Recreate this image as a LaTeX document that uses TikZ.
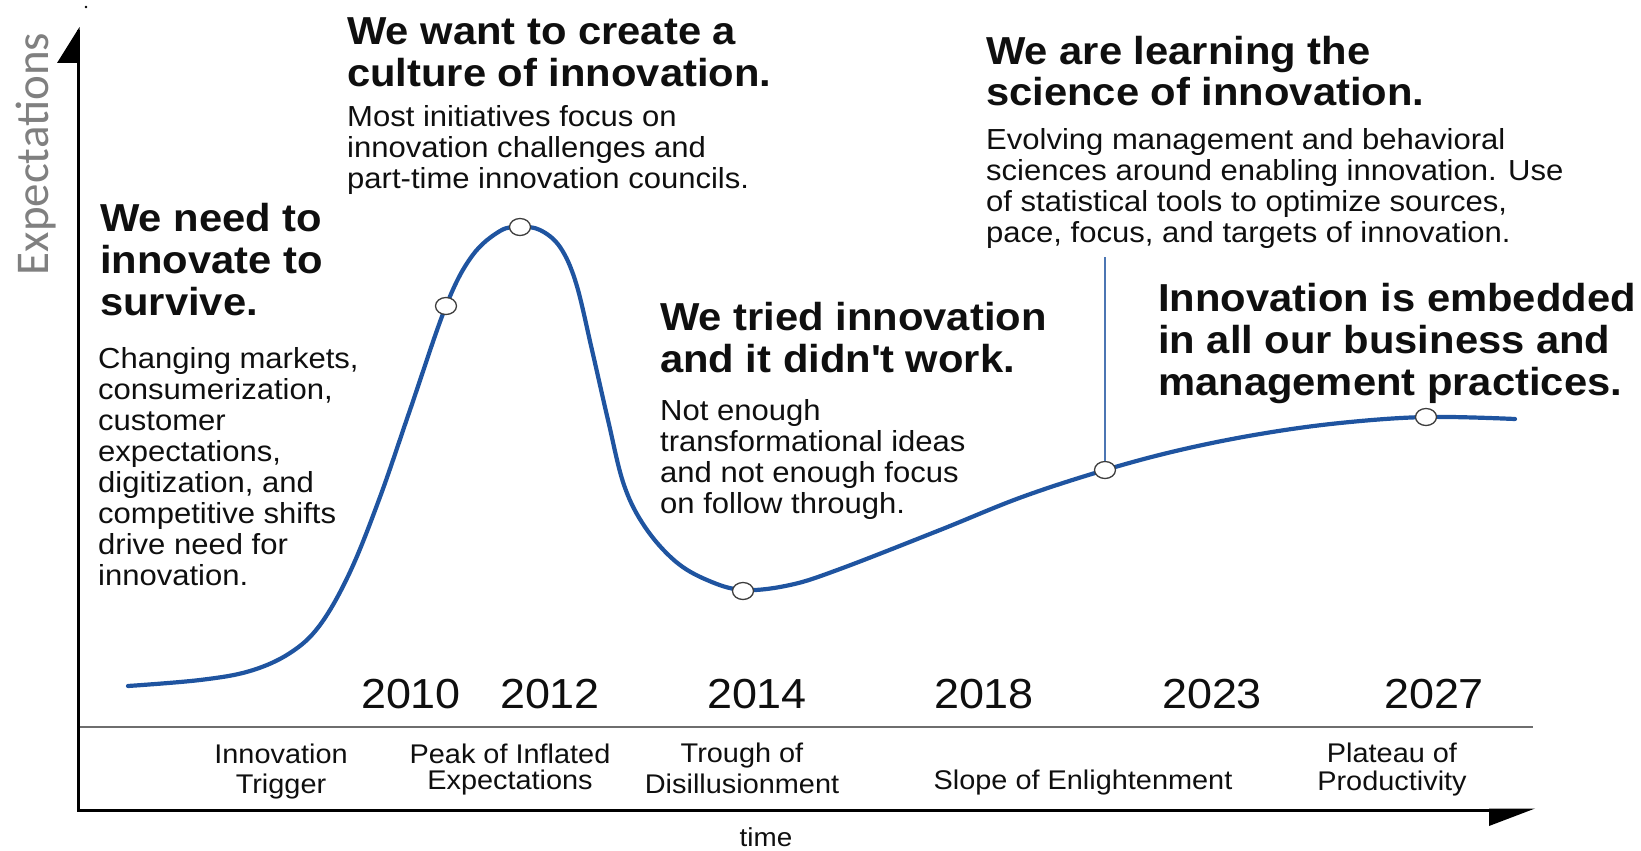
\documentclass[tikz,border=0pt]{standalone}
\usepackage{fontspec}
\setmainfont{Liberation Sans}[FakeStretch=1.07]
\newfontfamily\calfont{Carlito}
\usetikzlibrary{shapes.geometric}
\definecolor{curveblue}{RGB}{31,84,160}
\definecolor{ringgray}{RGB}{60,60,60}
\definecolor{sepgray}{RGB}{110,110,110}
\definecolor{labelgray}{RGB}{128,128,128}
\definecolor{inkblack}{RGB}{15,15,15}
\begin{document}
\begin{tikzpicture}[x=1pt,y=-1pt,
  head/.style={font=\fontsize{39}{42}\selectfont\bfseries, text=inkblack, align=left, anchor=base west, inner sep=0pt},
  body/.style={font=\fontsize{29}{31}\selectfont, text=inkblack, align=left, anchor=base west, inner sep=0pt},
  year/.style={font=\fontsize{42}{46}\selectfont, text=inkblack, anchor=base, inner sep=0pt},
  phase/.style={font=\fontsize{27}{30}\selectfont, text=inkblack, align=center, anchor=base, inner sep=0pt},
  ring/.style={ellipse, draw=ringgray, line width=1.3pt, fill=white, minimum width=21pt, minimum height=17pt, inner sep=0pt},
  axisline/.style={line width=3pt, draw=black},
  hype/.style={line width=4.2pt, draw=curveblue, line cap=round},
  leader/.style={line width=1.4pt, draw=curveblue!80}]
\useasboundingbox (0,0) rectangle (1641,851);

% axes
\coordinate (ytop) at (78,30);
\coordinate (origin) at (78,810);
\coordinate (xend) at (1492,810);
\coordinate (sepl) at (78,727);
\coordinate (sepr) at (1533,727);
\draw[line width=2pt, sepgray] (sepl) -- (sepr);
\draw[axisline] (ytop) -- (origin) -- (xend);
\fill[black] (79.5,27) -- (79.5,63) -- (57,63) -- cycle;
\fill[black] (1489,808.5) -- (1535,808.5) -- (1489,826) -- cycle;
\fill[black] (86,7) circle (1.4);

\node[font=\calfont\fontsize{47}{50}\selectfont, text=labelgray, rotate=90, anchor=base, inner sep=0pt] (ylabel) at (48,154) {Expectations};

% hype curve
\draw[hype] plot[smooth, tension=0.6] coordinates {
 (128,686) (200,680) (250,671) (290,653) (320,625) (350,572) (380,497) (410,410)
 (446,306) (472,256) (500,231) (520,227) (540,230) (560,247) (576,283) (592,350)
 (608,420) (624,485) (645,527) (675,561) (707,580) (743,590) (790,585) (840,569)
 (940,530) (1022,497) (1105,470) (1180,450) (1260,434) (1340,423) (1426,417) (1515,419)};

\coordinate (leadtop) at (1105,257);
\node[ring] (c1) at (446,306) {};
\node[ring] (c2) at (520,227) {};
\node[ring] (c3) at (743,591) {};
\node[ring] (c5) at (1105,470) {};
\node[ring] (c6) at (1426,417) {};
\draw[leader] (c5.north) -- (leadtop);

% headings and bodies (anchor = baseline of the last line)
\node[head] (h1) at (100,315) {We need to\\innovate to\\survive.};
\node[body] (b1) at (98,585) {Changing markets,\\consumerization,\\customer\\expectations,\\digitization, and\\competitive shifts\\drive need for\\innovation.};

\node[head] (h2) at (347,86) {We want to create a\\culture of innovation.};
\node[body] (b2) at (347,188) {Most initiatives focus on\\innovation challenges and\\part-time innovation councils.};

\node[head] (h3) at (660,372) {We tried innovation\\and it didn\textquotesingle t work.};
\node[body] (b3) at (660,513) {Not enough\\transformational ideas\\and not enough focus\\on follow through.};

\node[head] (h4) at (986,106) {We are learning the\\science of innovation.};
\node[body] (b4) at (986,242) {Evolving management and behavioral\\sciences around enabling innovation. Use\\of statistical tools to optimize sources,\\pace, focus, and targets of innovation.};

\node[head] (h5) at (1158,395) {Innovation is embedded\\in all our business and\\management practices.};

% years
\node[year] (y2010) at (411,708) {2010};
\node[year] (y2012) at (550,708) {2012};
\node[year] (y2014) at (757,708) {2014};
\node[year] (y2018) at (984,708) {2018};
\node[year] (y2023) at (1212,708) {2023};
\node[year] (y2027) at (1434,708) {2027};

% phases
\node[phase] (p1) at (281,793) {Innovation\\Trigger};
\node[phase, font=\fontsize{27}{26}\selectfont] (p2) at (510,789) {Peak of Inflated\\Expectations};
\node[phase, font=\fontsize{27}{31}\selectfont] (p3) at (742,793) {Trough of\\Disillusionment};
\node[phase] (p4) at (1083,789) {Slope of Enlightenment};
\node[phase, font=\fontsize{27}{28}\selectfont] (p5) at (1392,790) {Plateau of\\Productivity};

\node[font=\fontsize{26}{28}\selectfont, text=inkblack, anchor=base, inner sep=0pt] (time) at (766,846) {time};
\end{tikzpicture}
\end{document}
